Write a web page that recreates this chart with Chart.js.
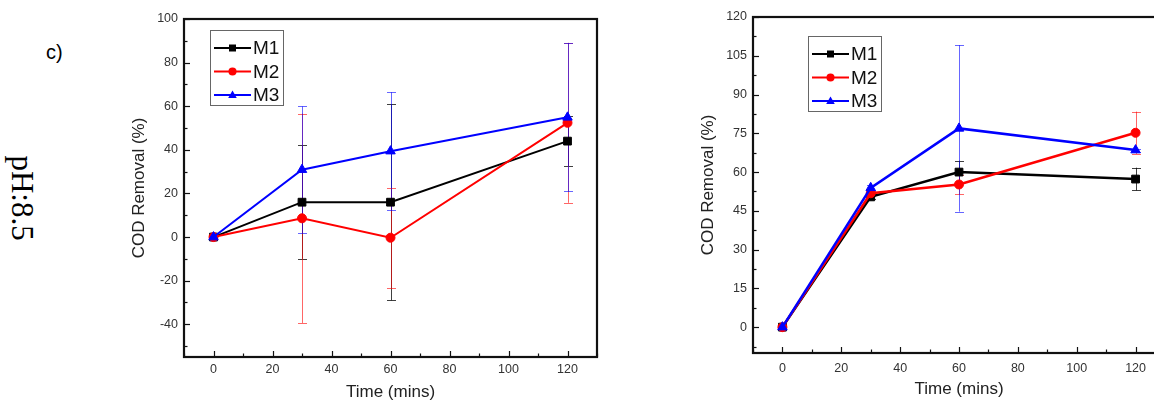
<!DOCTYPE html>
<html>
<head>
<meta charset="utf-8">
<script src="https://cdn.jsdelivr.net/npm/chart.js@4.4.0/dist/chart.umd.min.js"></script>
<style>
  html, body { margin: 0; padding: 0; background: #fff; width: 1154px; height: 404px; overflow: hidden; position: relative; }
  canvas { position: absolute; top: 0; }
  #left { left: 120px; }
  #right { left: 690px; }
  .tag { position: absolute; left: 46px; top: 41px; font: 20px "Liberation Sans", Arial, sans-serif; color: #000; }
  .ph { position: absolute; left: 22px; top: 198px; transform: translate(-50%, -50%) rotate(90deg);
        font: 31px "Liberation Serif", "Times New Roman", serif; white-space: nowrap; color: #000; }
</style>
</head>
<body>
<div class="tag">c)</div>
<div class="ph">pH:8.5</div>
<canvas id="left" width="500" height="404"></canvas>
<canvas id="right" width="498" height="404"></canvas>
<script>
const times = [0, 30, 60, 120];
const seriesNames = ['M1', 'M2', 'M3'];

// left panel (pH 8.5), COD removal % and error (+/-)
const leftM1 = [0, 16.0, 16.0, 44.0];
const leftM1Err = [0, 26, 45, 11.5];
const leftM2 = [0, 8.6, -0.3, 52.4];
const leftM2Err = [0, 48, 23, 36.7];
const leftM3 = [0, 30.9, 39.4, 54.9];
const leftM3Err = [0, 29, 27, 34];

// right panel
const rightM1 = [0, 50.4, 60.0, 57.3];
const rightM1Err = [0, 1, 4.4, 4.4];
const rightM2 = [0, 51.8, 55.2, 75.2];
const rightM2Err = [0, 1, 3.8, 8.2];
const rightM3 = [0, 53.9, 76.9, 68.5];
const rightM3Err = [0, 1, 32.2, 0.6];

// labelled ticks (the rest are minor)
const xTickLabels = [0, 20, 40, 60, 80, 100, 120];
const leftYTickLabels = [-40, -20, 0, 20, 40, 60, 80, 100];
const rightYTickLabels = [0, 15, 30, 45, 60, 75, 90, 105, 120];

const FONT = '"Liberation Sans", Arial, sans-serif';
const styles = [
  { color: '#000000', err: 'rgba(0,0,0,0.75)', pointStyle: 'rect', radius: 5.5 },
  { color: '#ff0000', err: 'rgba(255,0,0,0.6)', pointStyle: 'circle', radius: 4.5 },
  { color: '#0000ff', err: 'rgba(0,0,255,0.6)', pointStyle: 'triangle', radius: 5.5 }
];

function isLabelled(list, v) {
  return list.some(t => Math.abs(t - v) < 1e-6);
}

function drawMarker(ctx, style, x, y, r) {
  ctx.beginPath();
  if (style === 'rect') {
    const s = r * Math.SQRT1_2;
    ctx.rect(x - s, y - s, 2 * s, 2 * s);
  } else if (style === 'circle') {
    ctx.arc(x, y, r, 0, Math.PI * 2);
  } else {
    const h = r * 1.5, w = r * 1.73;
    ctx.moveTo(x, y - h * 0.6);
    ctx.lineTo(x + w / 2, y + h * 0.4);
    ctx.lineTo(x - w / 2, y + h * 0.4);
    ctx.closePath();
  }
  ctx.fill();
}

// frame round the plot with inward tick marks
const framePlugin = {
  id: 'frame',
  afterDatasetsDraw(chart) {
    const { ctx, chartArea: a, scales: { x, y } } = chart;
    const opts = chart.options.plugins.frame;
    ctx.save();
    ctx.strokeStyle = '#111';
    ctx.lineWidth = 1.2;
    x.ticks.forEach(t => {
      const px = Math.round(x.getPixelForValue(t.value)) + 0.5;
      const len = isLabelled(opts.xLabels, t.value) ? 6 : 3.5;
      ctx.beginPath();
      ctx.moveTo(px, a.bottom);
      ctx.lineTo(px, a.bottom - len);
      ctx.stroke();
    });
    y.ticks.forEach(t => {
      const py = Math.round(y.getPixelForValue(t.value)) + 0.5;
      const len = isLabelled(opts.yLabels, t.value) ? 6 : 3.5;
      ctx.beginPath();
      ctx.moveTo(a.left, py);
      ctx.lineTo(a.left + len, py);
      ctx.stroke();
    });
    ctx.lineWidth = 2.2;
    ctx.strokeStyle = '#111';
    ctx.strokeRect(a.left, a.top, a.right - a.left, a.bottom - a.top);
    ctx.restore();
  }
};

// vertical error bars with caps
const errorBarPlugin = {
  id: 'errorBars',
  beforeDatasetsDraw(chart) {
    const { ctx, scales: { x, y } } = chart;
    ctx.save();
    ctx.lineWidth = 1;
    chart.data.datasets.forEach(ds => {
      ctx.strokeStyle = ds.errColor;
      ds.data.forEach((p, i) => {
        const e = ds.errors[i];
        if (!e) return;
        const px = Math.round(x.getPixelForValue(p.x)) + 0.5;
        const top = y.getPixelForValue(p.y + e);
        const bot = y.getPixelForValue(p.y - e);
        ctx.beginPath();
        ctx.moveTo(px, top); ctx.lineTo(px, bot);
        ctx.moveTo(px - 4.5, Math.round(top) + 0.5); ctx.lineTo(px + 4.5, Math.round(top) + 0.5);
        ctx.moveTo(px - 4.5, Math.round(bot) + 0.5); ctx.lineTo(px + 4.5, Math.round(bot) + 0.5);
        ctx.stroke();
      });
    });
    ctx.restore();
  }
};

// boxed legend inside the plot
const boxLegendPlugin = {
  id: 'boxLegend',
  afterDraw(chart) {
    const { ctx, chartArea: a } = chart;
    const o = chart.options.plugins.boxLegend;
    const bx = a.left + o.x, by = a.top + o.y;
    ctx.save();
    ctx.fillStyle = '#fff';
    ctx.fillRect(bx, by, 73, 75);
    ctx.strokeStyle = '#666';
    ctx.lineWidth = 1;
    ctx.strokeRect(bx + 0.5, by + 0.5, 73, 75);
    ctx.font = '19px ' + FONT;
    ctx.textBaseline = 'middle';
    chart.data.datasets.forEach((ds, i) => {
      const ry = by + 18 + i * 23.5;
      ctx.strokeStyle = ds.borderColor;
      ctx.lineWidth = 2;
      ctx.beginPath();
      ctx.moveTo(bx + 4, ry);
      ctx.lineTo(bx + 41, ry);
      ctx.stroke();
      ctx.fillStyle = ds.borderColor;
      drawMarker(ctx, ds.pointStyle, bx + 22.5, ry, ds.pointRadius * 0.9);
      ctx.fillStyle = '#111';
      ctx.fillText(ds.label, bx + 43, ry + 1);
    });
    ctx.restore();
  }
};

function makeDatasets(values, errors, lineWidth) {
  return values.map((vals, k) => ({
    label: seriesNames[k],
    data: times.map((t, i) => ({ x: t, y: vals[i] })),
    errors: errors[k],
    errColor: styles[k].err,
    borderColor: styles[k].color,
    backgroundColor: styles[k].color,
    pointBackgroundColor: styles[k].color,
    pointBorderColor: styles[k].color,
    pointBorderWidth: 1,
    pointStyle: styles[k].pointStyle,
    pointRadius: styles[k].radius,
    borderWidth: lineWidth,
    tension: 0,
    order: 3 - k
  }));
}

function makeChart(id, cfg) {
  return new Chart(document.getElementById(id), {
    type: 'line',
    data: { datasets: makeDatasets(cfg.values, cfg.errors, cfg.lineWidth) },
    options: {
      responsive: false,
      animation: false,
      events: [],
      layout: { padding: cfg.padding },
      plugins: {
        legend: { display: false },
        tooltip: { enabled: false },
        frame: { xLabels: xTickLabels, yLabels: cfg.yLabels },
        boxLegend: cfg.legend
      },
      scales: {
        x: {
          type: 'linear',
          min: -10, max: 130,
          grid: { display: false, drawTicks: false },
          border: { display: false },
          ticks: {
            stepSize: 10,
            includeBounds: false,
            maxRotation: 0,
            autoSkip: false,
            padding: cfg.xTickPad,
            color: '#333',
            font: { family: FONT, size: 12.5 },
            callback: v => isLabelled(xTickLabels, v) ? String(v) : ''
          },
          title: {
            display: true, text: 'Time (mins)', color: '#222',
            font: { family: FONT, size: 17 },
            padding: { top: 0, bottom: cfg.xTitlePad }
          },
          afterFit: s => { s.height = cfg.xHeight; }
        },
        y: {
          min: cfg.yMin, max: cfg.yMax,
          grid: { display: false, drawTicks: false },
          border: { display: false },
          ticks: {
            stepSize: cfg.yStep,
            includeBounds: false,
            autoSkip: false,
            padding: 6,
            color: '#333',
            font: { family: FONT, size: 12.5 },
            callback: v => isLabelled(cfg.yLabels, v) ? String(v) : ''
          },
          title: {
            display: true, text: 'COD Removal (%)', color: '#222',
            font: { family: FONT, size: 17 },
            padding: { top: cfg.yTitlePad, bottom: 0 }
          },
          afterFit: s => { s.width = cfg.yWidth; }
        }
      }
    },
    plugins: [errorBarPlugin, framePlugin, boxLegendPlugin]
  });
}

makeChart('left', {
  values: [leftM1, leftM2, leftM3],
  errors: [leftM1Err, leftM2Err, leftM3Err],
  lineWidth: 2,
  yMin: -55, yMax: 100, yStep: 10,
  yLabels: leftYTickLabels,
  padding: { left: 0, top: 19, right: 23, bottom: 0 },
  yWidth: 64, xHeight: 47,
  xTickPad: 5, xTitlePad: 1, yTitlePad: 9,
  legend: { x: 26, y: 11 }
});

makeChart('right', {
  values: [rightM1, rightM2, rightM3],
  errors: [rightM1Err, rightM2Err, rightM3Err],
  lineWidth: 2.5,
  yMin: -10, yMax: 120, yStep: 7.5,
  yLabels: rightYTickLabels,
  padding: { left: 0, top: 17, right: 23, bottom: 0 },
  yWidth: 63, xHeight: 51,
  xTickPad: 8, xTitlePad: 4, yTitlePad: 8,
  legend: { x: 55, y: 19 }
});
</script>
</body>
</html>
